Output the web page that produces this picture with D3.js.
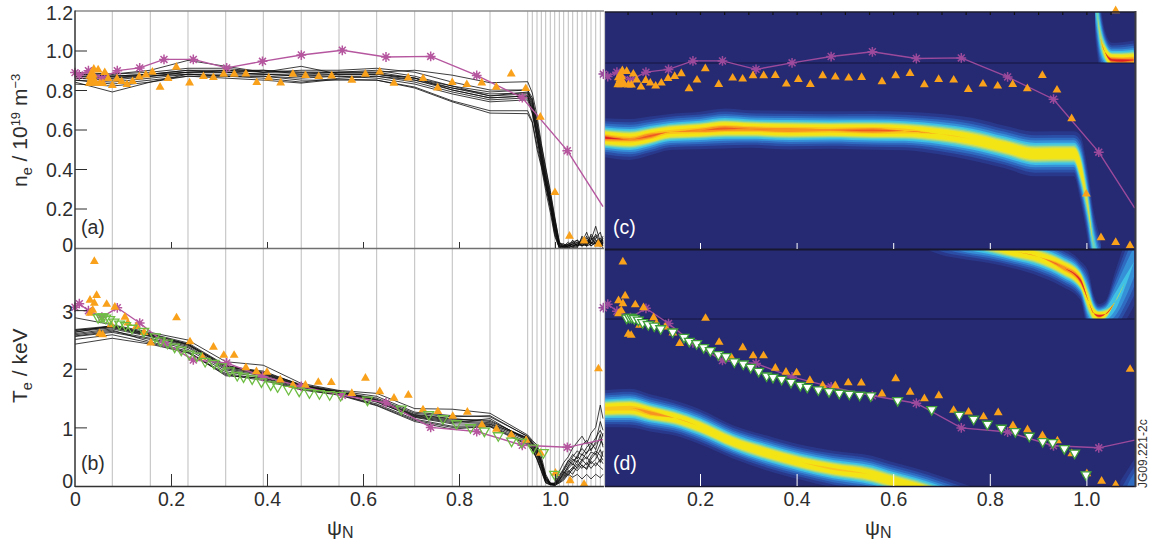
<!DOCTYPE html>
<html><head><meta charset="utf-8">
<script src="https://cdn.jsdelivr.net/npm/d3@7/dist/d3.min.js"></script>
<style>html,body{margin:0;padding:0;background:#fff}svg{display:block}text{font-family:"Liberation Sans",Arial,sans-serif}</style>
</head><body><svg id="c" width="1152" height="541"></svg>
<script>
// ---------- data ----------
const gridPsi=[.0777,.1569,.2354,.314,.3923,.4713,.55,.6285,.7077,.786,.8646,.9431,.9527,.9625,.9715,.9806,.9902,.9994,1.009,1.0181,1.0277,1.0369,1.0465,1.0563,1.066,1.075,1.0848,1.0944];
const profilePsi=[0,...gridPsi,1.1];

const neProfiles=[
[.87,.86,.88,.90,.89,.88,.87,.88,.88,.85,.81,.77,.78,.72,.59,.47,.35,.24,.11,.01,.01,.02,.00,.01,.03,.01,.02,.04,.01,.02],
[.88,.87,.88,.89,.90,.89,.89,.89,.90,.87,.82,.79,.80,.74,.62,.50,.38,.26,.13,.02,.00,.01,.02,.03,.01,.02,.05,.02,.03,.01],
[.86,.85,.87,.88,.88,.88,.87,.87,.87,.84,.79,.75,.76,.70,.57,.46,.34,.23,.10,.01,.01,.00,.01,.02,.04,.03,.01,.03,.05,.02],
[.85,.84,.86,.88,.87,.87,.86,.87,.86,.83,.78,.74,.75,.68,.55,.44,.33,.22,.09,.01,.00,.02,.03,.01,.02,.05,.03,.02,.01,.03],
[.89,.88,.89,.91,.91,.89,.90,.90,.91,.89,.84,.80,.80,.76,.64,.52,.40,.28,.15,.03,.01,.01,.02,.04,.02,.01,.07,.04,.02,.04],
[.84,.79,.84,.88,.87,.86,.84,.86,.87,.85,.80,.76,.77,.71,.58,.45,.33,.21,.08,.00,.01,.03,.01,.00,.06,.02,.04,.11,.03,.01],
[.88,.88,.90,.95,.92,.89,.92,.88,.88,.86,.82,.77,.79,.73,.60,.48,.36,.25,.12,.02,.02,.00,.01,.02,.01,.04,.02,.05,.08,.03],
[.87,.87,.87,.89,.89,.90,.88,.89,.89,.90,.875,.837,.842,.785,.67,.53,.41,.29,.16,.03,.00,.01,.04,.01,.03,.02,.03,.01,.04,.02],
[.85,.83,.85,.87,.87,.87,.85,.85,.85,.815,.745,.695,.695,.64,.52,.42,.31,.20,.07,.00,.01,.02,.00,.03,.02,.06,.01,.03,.02,.05],
[.83,.82,.84,.87,.86,.85,.835,.855,.85,.81,.74,.683,.68,.635,.50,.41,.29,.18,.06,.00,.00,.01,.02,.01,.05,.01,.04,.06,.02,.00],
[.88,.87,.88,.90,.90,.90,.89,.89,.89,.86,.81,.78,.785,.75,.63,.49,.37,.26,.14,.02,.02,.01,.01,.02,.03,.08,.02,.07,.03,.06],
[.86,.86,.87,.89,.89,.88,.88,.88,.88,.86,.80,.76,.77,.69,.56,.43,.32,.22,.10,.01,.01,.00,.03,.04,.01,.03,.06,.02,.01,.03]];

const teProfiles=[
[2.65,2.72,2.58,2.42,2.05,1.93,1.72,1.60,1.48,1.22,1.15,1.10,.82,.72,.60,.40,.14,.04,.03,.12,.22,.33,.42,.50,.44,.58,.63,.72,.80,.70],
[2.60,2.68,2.55,2.38,2.00,1.90,1.70,1.58,1.46,1.20,1.12,1.08,.80,.70,.56,.36,.10,.03,.02,.08,.16,.26,.20,.34,.45,.36,.50,.60,.52,.44],
[2.87,2.75,2.62,2.49,2.12,2.06,1.75,1.63,1.58,1.32,1.31,1.24,.87,.78,.70,.50,.20,.05,.05,.25,.40,.50,.65,.75,.85,.72,.90,1.00,1.38,1.15],
[2.42,2.52,2.42,2.27,1.90,1.80,1.64,1.55,1.37,1.10,.97,1.02,.72,.62,.45,.25,.05,.02,.01,.05,.10,.20,.15,.20,.12,.20,.12,.20,.14,.20],
[2.55,2.62,2.50,2.33,1.95,1.85,1.68,1.58,1.44,1.17,1.06,1.05,.78,.66,.52,.32,.09,.03,.02,.10,.18,.30,.38,.30,.42,.50,.38,.46,.62,.50],
[2.67,2.73,2.60,2.44,2.06,1.94,1.73,1.62,1.53,1.26,1.20,1.18,.85,.76,.66,.44,.17,.04,.04,.18,.30,.44,.36,.52,.64,.55,.70,.82,.95,.85],
[2.58,2.66,2.46,2.30,1.88,1.84,1.66,1.56,1.40,1.14,1.02,1.03,.75,.64,.48,.28,.07,.03,.02,.07,.14,.24,.32,.26,.36,.28,.42,.34,.46,.38],
[2.63,2.70,2.56,2.40,2.03,1.96,1.72,1.60,1.50,1.24,1.18,1.20,.84,.74,.64,.42,.16,.05,.03,.14,.26,.38,.50,.60,.52,.66,.74,.62,.88,.66],
[2.50,2.58,2.44,2.28,1.92,1.82,1.65,1.56,1.38,1.12,1.00,1.01,.70,.63,.46,.27,.06,.02,.01,.06,.12,.22,.28,.38,.30,.40,.30,.40,.32,.28],
[2.62,2.74,2.59,2.42,2.04,1.92,1.71,1.61,1.47,1.21,1.14,1.12,.80,.72,.58,.38,.12,.04,.03,.11,.20,.34,.46,.40,.55,.46,.58,.54,.72,.90],
[2.56,2.64,2.52,2.36,1.98,1.88,1.69,1.59,1.43,1.18,1.08,1.15,.77,.68,.54,.34,.11,.03,.02,.09,.24,.18,.30,.44,.34,.30,.46,.56,.40,.60],
[2.66,2.71,2.57,2.41,2.02,1.91,1.70,1.60,1.46,1.19,1.10,1.06,.82,.73,.62,.41,.13,.04,.03,.16,.28,.42,.54,.46,.70,.78,.60,.76,1.10,.95]];

const starPsi=[0,.009,.028,.056,.0881,.1348,.1854,.2465,.316,.3906,.4715,.5569,.6479,.741,.8369,.9319,1.0256,1.1];
const starNe=[.888,.876,.898,.859,.898,.912,.955,.955,.912,.945,.977,1.001,.967,.970,.874,.761,.493,.209];
const starTe=[3.05,3.11,2.99,2.88,3.04,2.78,2.45,2.15,2.10,1.87,1.70,1.547,1.42,1.0,.93,.695,.66,.79];

const triNePsi=[.03,.032,.034,.036,.038,.04,.042,.035,.031,.0517,.058,.0392,.0482,.062,.0689,.0778,.0875,.0972,.1082,.12,.1337,.1476,.1613,.1772,.1938,.211,.2387,.2676,.2883,.3097,.3318,.356,.3787,.4036,.4284,.454,.4802,.5078,.5347,.5768,.6051,.6348,.6645,.6941,.7252,.7555,.7859,.8163,.8474,.8777,.9088,.9391,.9695,.9999,1.0302,1.0606,1.0903,1.0606];
const triNe=[.835,.845,.86,.835,.875,.85,.84,.885,.87,.833,.833,.9055,.902,.8886,.8582,.8228,.8566,.843,.8278,.843,.8667,.8768,.8903,.8143,.8582,.9156,.8363,.8684,.8633,.8802,.8802,.8819,.838,.8616,.8363,.8802,.8734,.8684,.8717,.8498,.8802,.892,.8346,.8616,.8582,.811,.838,.8278,.8363,.8143,.8819,.8076,.6625,.281,.0599,.0363,.0194,1.209];

const triTePsi=[.0403,.0313,.0403,.045,.0313,.037,.066,.083,.104,.0514,.0576,.075,.11,.128,.144,.158,.2115,.2396,.265,.2885,.31,.3315,.356,.378,.4,.4275,.454,.48,.5069,.534,.5767,.6051,.635,.6646,.6944,.725,.756,.787,.8174,.8479,.878,.909,.94,.9698,1.0009,1.0315,1.0606,1.0905];
const triTe=[3.83,3.17,3.12,3.25,2.95,3.0,3.1,3.05,2.88,2.6,2.58,2.75,2.78,2.72,2.62,2.44,2.87,2.46,2.2,2.37,2.23,2.23,2.02,1.95,1.94,1.81,1.72,1.72,1.77,1.765,1.58,1.84,1.61,1.5,1.55,1.30,1.27,1.19,1.26,1.04,.97,.87,.78,.56,.22,.09,.03,2.0];

const greenPsi=[.0482,.0537,.0585,.064,.0723,.0813,.093,.1054,.1186,.1434,.1669,.1779,.1931,.2076,.2214,.238,.2538,.2711,.2897,.3049,.3215,.338,.3511,.3691,.3884,.4077,.4222,.445,.4671,.4885,.5092,.5306,.5534,.6093,.6797,.7369,.7666,.7949,.8239,.8529,.8818,.9095,.9302,.9543,.9757,.9992];
const greenTe=[2.876,2.887,2.887,2.865,2.842,2.797,2.763,2.74,2.694,2.638,2.547,2.479,2.439,2.371,2.32,2.251,2.217,2.127,2.092,2.036,1.967,1.888,1.865,1.831,1.78,1.729,1.695,1.65,1.621,1.593,1.576,1.559,1.547,1.468,1.314,1.218,1.15,1.065,.996,.94,.86,.769,.752,.65,.571,.202];

// density ridges: position, spread and peak of each band
const ridgeCPsi=[.003,.055,.0965,.138,.2,.252,.3035,.386,.469,.558,.624,.694,.763,.831,.894,.974,.987,1.001,1.016,1.03];
const ridgeCVal=[.566,.557,.575,.595,.603,.613,.610,.605,.605,.603,.600,.585,.559,.519,.484,.485,.418,.251,.008,-.12];
const ridgeCSig=[.034,.036,.034,.032,.033,.035,.033,.034,.033,.034,.034,.036,.038,.038,.04,.04,.058,.066,.066,.066];
const ridgeCAmp=[1,.94,.98,.9,.95,.98,.95,.96,.93,.98,.92,.86,.84,.84,.84,.84,.8,.64,.52,.5];

const ridgeC2Psi=[1.018,1.022,1.0282,1.0385,1.053,1.0737,1.098];
const ridgeC2Val=[1.29,1.2025,1.086,1.0,.9595,.957,.96];
const ridgeC2Sig=[.08,.08,.065,.038,.03,.032,.034];
const ridgeC2Amp=[.5,.52,.58,.8,1,1,.98];

const ridgeDPsi=[.003,.055,.0965,.148,.2,.268,.3387,.407,.4755,.556,.591,.645,.697,.76,.82];
const ridgeDVal=[1.325,1.337,1.257,1.167,1.019,.763,.571,.417,.298,.196,.11,-.01,-.145,-.32,-.5];
const ridgeDSig=[.11,.115,.11,.105,.105,.1,.105,.105,.11,.115,.115,.115,.115,.115,.115];
const ridgeDAmp=[.9,.92,.95,.86,.85,.84,.84,.85,.87,.85,.84,.83,.83,.83,.83];

const ridgeD2Psi=[.66,.7,.738,.798,.846,.902,.9495,.9874,1.0048,1.0151,1.0261,1.0391,1.0592,1.0799,1.0985];
const ridgeD2Val=[4.2,4.18,4.15,4.09,4.012,3.915,3.744,3.518,3.148,2.956,2.91,2.939,3.148,3.489,3.83];
const ridgeD2Sig=[.1,.1,.1,.1,.1,.115,.115,.115,.18,.11,.07,.08,.2,.27,.31];
const ridgeD2Amp=[.03,.22,.45,.7,.84,.85,.95,1,.76,.86,1,.78,.42,.34,.28];

const ridgeD3Psi=[1.07,1.085,1.1];
const ridgeD3Val=[-.3,-.15,.02];
const ridgeD3Sig=[.2,.2,.2];
const ridgeD3Amp=[.1,.16,.2];

const levels=[.015,.05,.11,.2,.32,.43,.52,.6,.68,.86,.92,.97,.99];
const levelColors=["#29388a","#2b4ea6","#2f6cc1","#3690d8","#3fc0e4","#66cfc0","#a6d880","#d6e04a","#f3e515","#fac51a","#f79421","#ef5a22","#dc1f26"];

const neTicks=[0,.2,.4,.6,.8,1,1.2];
const teTicks=[0,1,2,3];
const psiTicks=[0,.2,.4,.6,.8,1];
const psiMinor=d3.range(0,1.1,.05);

// ---------- scales ----------
const INK="#2d2d2d",NAVY="#262a72";
const svg=d3.select("#c");
const xL=d3.scaleLinear([0,1.1],[75,603]);
const xR=d3.scaleLinear([0,1.1],[603.4,1134.7]);
const yA=d3.scaleLinear([0,1.2],[248,11]);
const yB=d3.scaleLinear([0,4.06],[486,248]);
const yC=d3.scaleLinear([0,1.2],[249.5,12.5]);
const yD=d3.scaleLinear([0,4.06],[486.5,248.5]);

const defs=svg.append("defs");
function clip(id,x,y,w,h){defs.append("clipPath").attr("id",id).append("rect").attr("x",x).attr("y",y).attr("width",w).attr("height",h);}
clip("cA",75,11,529,237.5);clip("cB",75,248,529,238);
clip("cC1",605,63,530,186);clip("cC2",605,12,530,51);
clip("cD1",605,319,530,167.5);clip("cD2",605,250,530,69);

const asterisk={draw(ctx,size){const r=Math.sqrt(size);for(let i=0;i<4;i++){const a=i*Math.PI/4,dx=r*Math.cos(a),dy=r*Math.sin(a);ctx.moveTo(-dx,-dy);ctx.lineTo(dx,dy);}}};
const starPath=d3.symbol().type(asterisk).size(24)();
const triPath=d3.symbol().type(d3.symbolTriangle).size(34)();
const greenPath=d3.symbol().type(d3.symbolTriangle).size(42)();

function stars(g,x,y,vals,col){
  g.append("path").datum(vals).attr("fill","none").attr("stroke",col).attr("stroke-width",1.4)
   .attr("d",d3.line().x((d,i)=>x(starPsi[i])).y(d=>y(d)));
  const shown=vals.slice(0,-1);
  g.append("g").selectAll("path").data(shown).join("path").attr("d",starPath)
   .attr("transform",(d,i)=>`translate(${x(starPsi[i])},${y(d)})`)
   .attr("fill","none").attr("stroke",col).attr("stroke-width",1.5);
  g.append("g").selectAll("circle").data(shown).join("circle").attr("r",2.2)
   .attr("cx",(d,i)=>x(starPsi[i])).attr("cy",d=>y(d)).attr("fill",col);
}
function triangles(g,x,y,ps,vs){
  g.append("g").selectAll("path").data(vs).join("path").attr("d",triPath).attr("fill","#f9a11b")
   .attr("transform",(d,i)=>`translate(${x(ps[i])},${y(d)})`);
}
function greens(g,x,y,fill,stroke){
  g.append("g").selectAll("path").data(greenTe).join("path").attr("d",greenPath)
   .attr("fill",fill).attr("stroke",stroke).attr("stroke-width",1.3)
   .attr("transform",(d,i)=>`translate(${x(greenPsi[i])},${y(d)}) rotate(180)`);
}
function ensemble(g,x,y,rows){
  g.selectAll("path").data(rows).join("path").attr("fill","none").attr("stroke","#0c0c0c").attr("stroke-width",.8)
   .attr("d",d3.line().x((d,i)=>x(profilePsi[i])).y(d=>y(d)));
}
function band(g,x,y,ps,vs,sg,am){
  const pts=ps.map((p,i)=>({p,v:vs[i],s:sg[i],a:am[i]}));
  levels.forEach((l,k)=>{
    const hw=d=>d.a>l?d.s*Math.sqrt(2*Math.log(d.a/l)):0;
    g.append("path").datum(pts).attr("fill",levelColors[k])
     .attr("d",d3.area().curve(d3.curveMonotoneX).x(d=>x(d.p)).y0(d=>y(d.v-hw(d))).y1(d=>y(d.v+hw(d))));
  });
}

// ---------- left panels ----------
svg.append("g").selectAll("line").data(gridPsi).join("line")
  .attr("x1",d=>xL(d)).attr("x2",d=>xL(d)).attr("y1",11).attr("y2",486)
  .attr("stroke","#bdbdbd").attr("stroke-width",1);

ensemble(svg.append("g").attr("clip-path","url(#cA)"),xL,yA,neProfiles);
ensemble(svg.append("g").attr("clip-path","url(#cB)"),xL,yB,teProfiles);

const pa=svg.append("g");
stars(pa,xL,yA,starNe,"#b5569f");
triangles(pa,xL,yA,triNePsi.filter((p,i)=>triNe[i]<1.2),triNe.filter(v=>v<1.2));
const pb=svg.append("g");
stars(pb,xL,yB,starTe,"#b5569f");
triangles(pb,xL,yB,triTePsi,triTe);
greens(pb,xL,yB,"none","#6fbe44");

// ---------- right panels ----------
svg.append("rect").attr("x",605).attr("y",12).attr("width",530).attr("height",475).attr("fill",NAVY);
const c1=svg.append("g").attr("clip-path","url(#cC1)");
band(c1,xR,yC,ridgeCPsi,ridgeCVal,ridgeCSig,ridgeCAmp);
const c2=svg.append("g").attr("clip-path","url(#cC2)");
band(c2,xR,yC,ridgeC2Psi,ridgeC2Val,ridgeC2Sig,ridgeC2Amp);
const d1=svg.append("g").attr("clip-path","url(#cD1)");
band(d1,xR,yD,ridgeDPsi,ridgeDVal,ridgeDSig,ridgeDAmp);
band(d1,xR,yD,ridgeD3Psi,ridgeD3Val,ridgeD3Sig,ridgeD3Amp);
const d2=svg.append("g").attr("clip-path","url(#cD2)");
band(d2,xR,yD,ridgeD2Psi,ridgeD2Val,ridgeD2Sig,ridgeD2Amp);

[63,319].forEach(v=>svg.append("line").attr("x1",605).attr("x2",1135).attr("y1",v).attr("y2",v).attr("stroke","#15173f").attr("stroke-width",1));

const pc=svg.append("g");
stars(pc,xR,yC,starNe,"#9c4a9c");
triangles(pc,xR,yC,triNePsi,triNe);
const pd=svg.append("g");
stars(pd,xR,yD,starTe,"#9c4a9c");
triangles(pd,xR,yD,triTePsi,triTe);
greens(pd,xR,yD,"#fff","#3f9e3a");

// ---------- frames and axes ----------
function frame(x1,y1,x2,y2,col,w){svg.append("line").attr("x1",x1).attr("y1",y1).attr("x2",x2).attr("y2",y2).attr("stroke",col).attr("stroke-width",w);}
frame(75,11,604,11,"#8a8a8a",1.5);
frame(75,248.5,604,248.5,"#707070",1.5);
frame(75,486.5,604,486.5,"#333",1.5);
frame(75,10.5,75,487,"#333",1.5);
frame(604.5,11,604.5,487,"#c8c8c8",1.2);
frame(605,12,1136,12,"#1c1c2c",1.6);
frame(605,249.5,1136,249.5,"#17172f",1.8);
frame(605,486.5,1136,486.5,"#17172f",1.5);
frame(1135.5,11,1135.5,487,"#3a3a42",2);

function styleAxis(g){g.select(".domain").remove();g.selectAll("text").attr("fill",INK).attr("font-size",19.5).attr("font-family",'"Liberation Sans",Arial,sans-serif');}
const fmtNe=d=>d===0?"0":d3.format(".1f")(d);
const axA=svg.append("g").attr("transform","translate(75,0)")
  .call(d3.axisLeft(yA).tickValues(neTicks).tickFormat(fmtNe).tickSize(-12).tickPadding(2)).call(styleAxis);
axA.selectAll(".tick line").attr("stroke",INK).attr("stroke-width",1).filter(d=>d===0||d===1.2).remove();
axA.selectAll("text").attr("dy",d=>d===0?"0.19em":d===1.2?"0.43em":"0.36em");
const axB=svg.append("g").attr("transform","translate(75,0)")
  .call(d3.axisLeft(yB).tickValues(teTicks).tickFormat(d3.format("d")).tickSize(-12).tickPadding(2)).call(styleAxis);
axB.selectAll(".tick line").attr("stroke",INK).attr("stroke-width",1).filter(d=>d===0).remove();
axB.selectAll("text").attr("dy",d=>d===0?"0.07em":"0.42em");

const fmtX=d=>d===0?"0":d3.format(".1f")(d);
// panel (a): short inward ticks, no labels
const tickA=svg.append("g").attr("transform","translate(0,248)")
  .call(d3.axisBottom(xL).tickValues(psiTicks.slice(1)).tickFormat("").tickSize(-6).tickSizeOuter(0)).call(styleAxis);
tickA.selectAll("line").attr("stroke","#333");
const axL=svg.append("g").attr("transform","translate(0,486)")
  .call(d3.axisBottom(xL).tickValues(psiTicks).tickFormat(fmtX).tickSize(-12).tickSizeOuter(0).tickPadding(6)).call(styleAxis);
axL.selectAll("line").attr("stroke","#333").filter(d=>d===0).remove();

const tickC=svg.append("g").attr("transform","translate(0,249)")
  .call(d3.axisBottom(xR).tickValues(psiTicks.slice(1)).tickFormat("").tickSize(-6).tickSizeOuter(0)).call(styleAxis);
tickC.selectAll("line").attr("stroke","#fff");
const tickT=svg.append("g").attr("transform","translate(0,12)")
  .call(d3.axisTop(xR).tickValues(psiMinor.slice(1)).tickFormat("").tickSize(-3).tickSizeOuter(0)).call(styleAxis);
tickT.selectAll("line").attr("stroke","#111").attr("stroke-width",1.2);
const axR=svg.append("g").attr("transform","translate(0,486)")
  .call(d3.axisBottom(xR).tickValues(psiTicks.slice(1)).tickFormat(fmtX).tickSize(-12).tickSizeOuter(0).tickPadding(6)).call(styleAxis);
axR.selectAll("line").attr("stroke","#fff");

// ---------- text ----------
function psiLabel(x){
  const t=svg.append("text").attr("x",x).attr("y",535).attr("fill",INK).attr("font-size",21);
  t.append("tspan").text("ψ");
  t.append("tspan").attr("dy",3).attr("font-size",16).text("N");
}
psiLabel(327);psiLabel(865);

const tn=svg.append("text").attr("transform","translate(27,187) rotate(-90)").attr("fill",INK).attr("font-size",21);
tn.append("tspan").text("n");
tn.append("tspan").attr("dy",5).attr("font-size",14.5).text("e");
tn.append("tspan").attr("dy",-5).text(" / 10");
tn.append("tspan").attr("dy",-7).attr("font-size",13).text("19");
tn.append("tspan").attr("dy",7).text(" m");
tn.append("tspan").attr("dy",-7).attr("font-size",13).text("−3");

const tt=svg.append("text").attr("transform","translate(27,403) rotate(-90)").attr("fill",INK).attr("font-size",21);
tt.append("tspan").text("T");
tt.append("tspan").attr("dy",5).attr("font-size",14.5).text("e");
tt.append("tspan").attr("dy",-5).text(" / keV");

[["(a)",81,234,INK],["(b)",81,470,INK],["(c)",613,234,"#fff"],["(d)",613,470,"#fff"]].forEach(([s,x,y,c])=>
  svg.append("text").attr("x",x).attr("y",y).attr("fill",c).attr("font-size",19.5).text(s));

svg.append("text").attr("transform","translate(1147,488) rotate(-90)").attr("fill","#333").attr("font-size",12).text("JG09.221-2c");
</script></body></html>
